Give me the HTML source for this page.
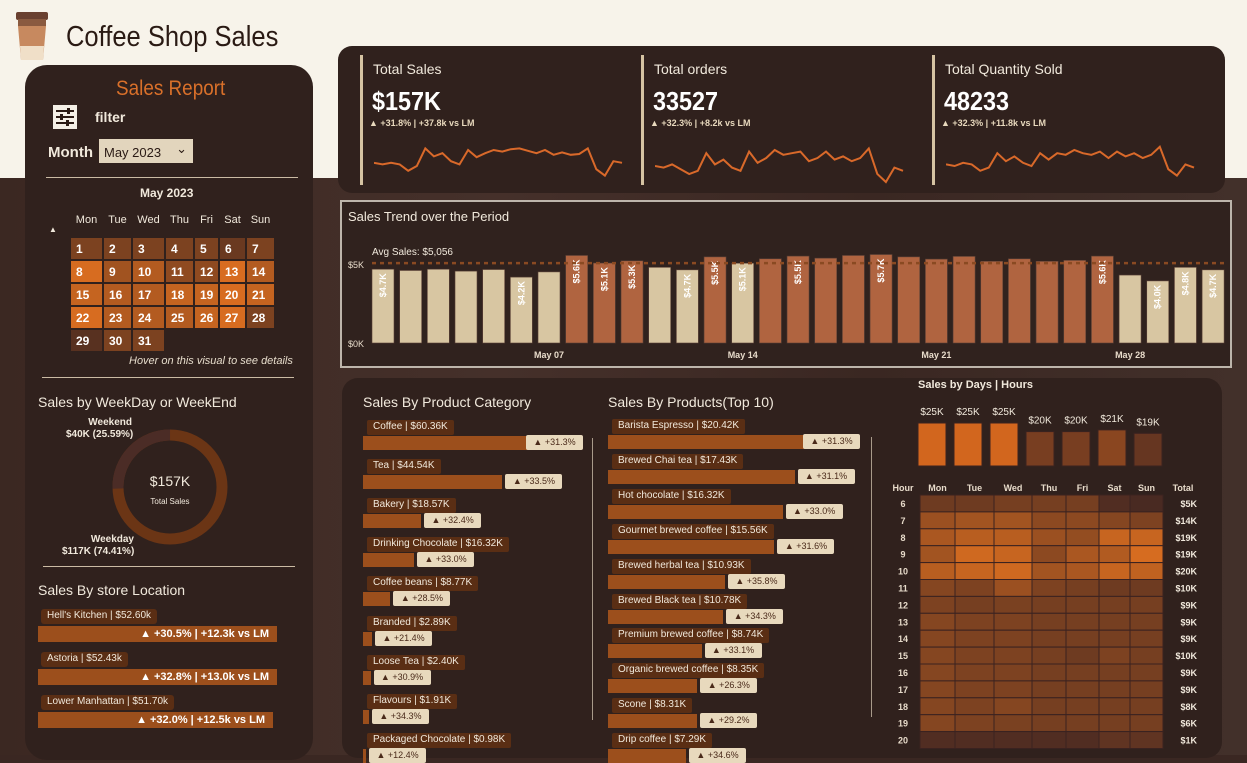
<!DOCTYPE html>
<html><head><meta charset="utf-8">
<style>
*{box-sizing:border-box;margin:0;padding:0}
body{width:1247px;height:755px;overflow:hidden;position:relative;font-family:"Liberation Sans",sans-serif;background:#3a2722}
.a{position:absolute}
.t{color:#f1e9dc;white-space:nowrap}
</style></head><body>
<div class="a" style="left:0;top:0;width:1247px;height:178px;background:#f7f3ea"></div>
<div class="a" style="left:0;top:178px;width:1247px;height:577px;background:linear-gradient(90deg,#3b2822,#45302a 40%,#3a2722 70%,#42302a)"></div>
<svg class="a" style="left:14px;top:10px" width="36" height="52" viewBox="0 0 36 52"><rect x="2" y="2" width="32" height="8" rx="2" fill="#6a4030"/><rect x="4" y="9" width="28" height="7" fill="#8a5a40"/><path d="M4 16h28l-3 34H7z" fill="#c7895f"/><path d="M6 36h24l-1 14H7z" fill="#f0dfc8"/></svg>
<div class="a" style="left:66px;top:21px;font-size:29px;color:#2a1a14;transform:scaleX(.88);transform-origin:left">Coffee Shop Sales</div>

<!-- left panel -->
<div class="a" style="left:25px;top:65px;width:288px;height:695px;background:#30211d;border-radius:22px"></div>
<div class="a" style="left:116px;top:77px;font-size:21px;color:#d9702a;transform:scaleX(.9);transform-origin:left">Sales Report</div>
<svg class="a" style="left:53px;top:105px" width="24" height="24"><rect width="24" height="24" fill="#f4efe6"/><g stroke="#2a1a14" stroke-width="2"><line x1="3" y1="6" x2="21" y2="6"/><line x1="3" y1="12" x2="21" y2="12"/><line x1="3" y1="18" x2="21" y2="18"/></g><g fill="#2a1a14"><rect x="14" y="3" width="3" height="6"/><rect x="7" y="9" width="3" height="6"/><rect x="13" y="15" width="3" height="6"/></g></svg>
<div class="a t" style="left:95px;top:109px;font-size:14px;font-weight:bold">filter</div>
<div class="a t" style="left:48px;top:144px;font-size:15px;font-weight:bold">Month</div>
<div class="a" style="left:99px;top:139px;width:94px;height:24px;background:#e2d5bd;font-size:13px;color:#2a1a14;padding:6px 0 0 5px">May 2023<span style="position:absolute;right:6px;top:2px;font-size:13px">&#8964;</span></div>
<div class="a" style="left:46px;top:177px;width:252px;height:1px;background:#cbbba4"></div>
<div class="a t" style="left:140px;top:186px;font-size:12px;font-weight:bold">May 2023</div>
<div class="a t" style="left:49px;top:225px;font-size:8px">&#9650;</div>
<div class="a" style="left:129px;top:355px;font-size:11px;font-style:italic;color:#e6dccb">Hover on this visual to see details</div>
<div class="a" style="left:42px;top:377px;width:252px;height:1px;background:#cbbba4"></div>
<div class="a t" style="left:38px;top:394px;font-size:14px">Sales by WeekDay or WeekEnd</div>
<svg class="a" id="donut" style="left:100px;top:420px" width="140" height="140"></svg>
<div class="a t" style="left:66px;top:417px;font-size:10px;font-weight:bold;text-align:right;width:66px;line-height:12px">Weekend<br>$40K (25.59%)</div>
<div class="a t" style="left:62px;top:534px;font-size:10px;font-weight:bold;text-align:right;width:72px;line-height:12px">Weekday<br>$117K (74.41%)</div>
<div class="a t" style="left:130px;top:473px;width:80px;text-align:center;font-size:14px">$157K</div>
<div class="a t" style="left:130px;top:497px;width:80px;text-align:center;font-size:8px">Total Sales</div>
<div class="a" style="left:43px;top:566px;width:252px;height:1px;background:#cbbba4"></div>
<div class="a t" style="left:38px;top:582px;font-size:14px">Sales By store Location</div>

<!-- KPI panel -->
<div class="a" style="left:338px;top:46px;width:887px;height:147px;background:#30211d;border-radius:14px"></div>

<!-- trend -->
<div class="a" style="left:340px;top:200px;width:892px;height:168px;background:#30221e;border:2px solid #bdb5ab"></div>
<div class="a t" style="left:348px;top:209px;font-size:13px">Sales Trend over the Period</div>
<svg class="a" id="trend" style="left:340px;top:230px" width="892" height="135"></svg>

<!-- bottom panel -->
<div class="a" style="left:342px;top:378px;width:880px;height:380px;background:#30211d;border-radius:16px"></div>
<div class="a t" style="left:363px;top:394px;font-size:14px">Sales By Product Category</div>
<div class="a t" style="left:608px;top:394px;font-size:14px">Sales By Products(Top 10)</div>
<div class="a" style="left:592px;top:438px;width:1px;height:282px;background:#a89a8a"></div>
<div class="a" style="left:871px;top:437px;width:1px;height:280px;background:#a89a8a"></div>
<div class="a t" style="left:918px;top:379px;font-size:11px;font-weight:bold">Sales by Days | Hours</div>
<svg class="a" id="heat" style="left:880px;top:395px" width="340" height="360"></svg>

<script>
const NS="http://www.w3.org/2000/svg";
function el(tag,attrs,parent){const e=document.createElementNS(NS,tag);for(const k in attrs)e.setAttribute(k,attrs[k]);parent.appendChild(e);return e;}
function div(parent,css,html){const d=document.createElement('div');d.className='a';d.style.cssText=css;if(html!==undefined)d.innerHTML=html;(parent||document.body).appendChild(d);return d;}

// ---- calendar ----
const calDays=["Mon","Tue","Wed","Thu","Fri","Sat","Sun"];
const calShade=[3,3,3,3,3,2,3, 8,5,6,4,4,8,6, 7,6,6,7,7,8,7, 8,6,6,6,7,8,3, 1,3,3];
const calX=[71,104,133,166,195,220,247],calW=[31,27,31,27,23,25,27];
calDays.forEach((d,i)=>{const h=div(null,`left:${calX[i]}px;top:214px;width:${calW[i]}px;text-align:center;font-size:11px;color:#f1e9dc`,d);

});
function shade(v){const c1=[70,40,32],c2=[215,108,32];const t=v/8;return `rgb(${c1.map((c,i)=>Math.round(c+(c2[i]-c)*t)).join(',')})`;}
calShade.forEach((s,i)=>{const c=i%7,r=Math.floor(i/7);
const d=div(null,`left:${calX[c]}px;top:${238+r*23}px;width:${calW[c]}px;height:21px;background:${shade(s)};color:#fff;font-weight:bold;font-size:12px;padding:4px 0 0 5px`,String(i+1));

});

// ---- donut ----
const donutVals=[40,117];
(function(){const svg=document.getElementById('donut');const cx=70,cy=67,r=52,tot=donutVals[0]+donutVals[1];
const C=2*Math.PI*r;const wk=donutVals[0]/tot;
const a=el('circle',{cx,cy,r,fill:'none',stroke:'#6b3515','stroke-width':11},svg);


const b=el('circle',{cx,cy,r,fill:'none',stroke:'#4b2c26','stroke-width':11,'stroke-dasharray':`${C*wk} ${C}`,transform:`rotate(${-90-360*wk} ${cx} ${cy})`},svg);

})();

// ---- stores ----
const storeNames=["Hell's Kitchen","Astoria","Lower Manhattan"];
const storeVals=["$52.60k","$52.43k","$51.70k"];
const storeDelta=["+30.5% | +12.3k vs LM","+32.8% | +13.0k vs LM","+32.0% | +12.5k vs LM"];
storeNames.forEach((n,i)=>{const y=609+i*43;
const t=div(null,`left:41px;top:${y}px;height:15px;background:#5a2e14;border-radius:3px;padding:1px 6px;font-size:10px;color:#f1e9dc`,`${n} | ${storeVals[i]}`);


const b=div(null,`left:38px;top:${y+17}px;width:${i==2?235:239}px;height:16px;background:#9c4f1c;text-align:right;padding:2px 8px;font-size:11px;font-weight:bold;color:#fff`,`&#9650; ${storeDelta[i]}`);

});

// ---- KPIs ----
const kpiTitles=["Total Sales","Total orders","Total Quantity Sold"];
const kpiValues=["$157K","33527","48233"];
const kpiDelta=["+31.8% | +37.8k vs LM","+32.3% | +8.2k vs LM","+32.3% | +11.8k vs LM"];
const spark1=[4.7,4.6,4.7,4.6,4.2,4.5,5.6,5.1,5.3,4.8,4.6,5.5,5.05,5.3,5.5,5.4,5.55,5.6,5.45,5.3,5.5,5.2,5.35,5.2,5.25,5.6,4.3,3.9,4.8,4.7];
const spark2=[4.5,4.4,4.6,4.3,4.0,4.2,5.3,4.6,4.9,4.4,4.2,5.4,4.7,5.0,5.5,5.2,5.3,5.4,4.8,5.0,5.4,4.9,5.1,4.8,5.0,5.6,4.0,3.5,4.4,4.2];
const spark3=[4.6,4.5,4.7,4.6,4.2,4.4,5.3,4.8,5.1,4.7,4.5,5.3,4.9,5.3,5.2,5.5,5.3,5.2,5.4,5.0,5.4,5.1,5.3,5.0,5.2,5.7,4.3,3.9,4.6,4.4];
const sparks=[spark1,spark2,spark3];
const kx=[360,641,932];
kpiTitles.forEach((t,i)=>{const x=kx[i];
const ln=div(null,`left:${x}px;top:55px;width:3px;height:130px;background:#d5c3a2`);


const tt=div(null,`left:${x+13}px;top:61px;font-size:14px;color:#f1e9dc`,t);


const v=div(null,`left:${x+12}px;top:86px;font-size:26px;font-weight:bold;color:#fff;transform:scaleX(.9);transform-origin:left`,kpiValues[i]);


const d=div(null,`left:${x+9}px;top:118px;font-size:9px;font-weight:bold;color:#e8d9bd`,`&#9650; ${kpiDelta[i]}`);


const svg=document.createElementNS(NS,'svg');svg.setAttribute('class','a');svg.style.cssText=`left:${x+14}px;top:140px`;svg.setAttribute('width',250);svg.setAttribute('height',45);


document.body.appendChild(svg);
const s=sparks[i],mn=3.5,mx=6;const pts=s.map((v,j)=>`${(j*248/(s.length-1)).toFixed(1)},${(42-(v-mn)/(mx-mn)*40).toFixed(1)}`).join(' ');
const pl=el('polyline',{points:pts,fill:'none',stroke:'#d9692a','stroke-width':2},svg);

});

// ---- trend chart ----
const trendValues=[4.67,4.59,4.67,4.55,4.65,4.17,4.5,5.54,5.06,5.2,4.79,4.63,5.45,5.05,5.33,5.5,5.37,5.54,5.6,5.45,5.31,5.48,5.17,5.33,5.17,5.23,5.5,4.3,3.93,4.79,4.63];
const trendLabels=["$4.7K","","","","","$4.2K","","$5.6K","$5.1K","$5.3K","","$4.7K","$5.5K","$5.1K","","$5.5K","","","$5.7K","","","","","","","","$5.6K","","$4.0K","$4.8K","$4.7K"];
const trendTicks=[{i:6,l:"May 07"},{i:13,l:"May 14"},{i:20,l:"May 21"},{i:27,l:"May 28"}];
const avgSales=5.056;
(function(){const svg=document.getElementById('trend');const base=113,top0=34;const yS=v=>base-(v/5)*(base-top0);
const x0=32,step=27.67,bw=22;const xS=i=>x0+i*step;
[[0,"$0K"],[5,"$5K"]].forEach(([v,l])=>{const t=el('text',{x:8,y:yS(v)+4,'font-size':9,fill:'#e8dccb'},svg);t.textContent=l;

});
trendValues.forEach((v,i)=>{const r=el('rect',{x:xS(i),y:yS(v),width:bw,height:base-yS(v),fill:v>=avgSales?'#b06440':'#d8c6a2',stroke:'#5a4036','stroke-width':0.6},svg);


if(trendLabels[i]){const cx=xS(i)+bw/2+3,cy=yS(v)+4;const t=el('text',{x:cx,y:cy,transform:`rotate(-90 ${cx} ${cy})`,'text-anchor':'end','font-size':9,'font-weight':'bold',fill:'#fff'},svg);t.textContent=trendLabels[i];

}});
const ay=yS(avgSales);
const ln=el('line',{x1:x0,x2:xS(30)+bw,y1:ay,y2:ay,stroke:'#8a4a22','stroke-width':2.5,'stroke-dasharray':'4 4'},svg);


const at=el('text',{x:32,y:ay-8,'font-size':10,fill:'#f1e9dc'},svg);at.textContent="Avg Sales: $5,056";


trendTicks.forEach(k=>{const t=el('text',{x:xS(k.i)+bw/2,y:128,'text-anchor':'middle','font-size':9,'font-weight':'bold',fill:'#e8dccb'},svg);t.textContent=k.l;

});})();

// ---- categories & products ----
const catNames=["Coffee","Tea","Bakery","Drinking Chocolate","Coffee beans","Branded","Loose Tea","Flavours","Packaged Chocolate"];
const catValues=[60.36,44.54,18.57,16.32,8.77,2.89,2.40,1.91,0.98];
const catDelta=["+31.3%","+33.5%","+32.4%","+33.0%","+28.5%","+21.4%","+30.9%","+34.3%","+12.4%"];
const prodNames=["Barista Espresso","Brewed Chai tea","Hot chocolate","Gourmet brewed coffee","Brewed herbal tea","Brewed Black tea","Premium brewed coffee","Organic brewed coffee","Scone","Drip coffee"];
const prodValues=[20.42,17.43,16.32,15.56,10.93,10.78,8.74,8.35,8.31,7.29];
const prodDelta=["+31.3%","+31.1%","+33.0%","+31.6%","+35.8%","+34.3%","+33.1%","+26.3%","+29.2%","+34.6%"];
function hbars(names,vals,deltas,x0,top,pitch,scale,maxW,nm){
names.forEach((n,i)=>{const y=top+i*pitch;const w=Math.min(vals[i]*scale,maxW);
const t=div(null,`left:${x0+4}px;top:${y}px;height:15px;background:#5a2e14;border-radius:2px;padding:1px 6px;font-size:10px;color:#f1e9dc;white-space:nowrap`,`${n} | $${vals[i].toFixed(2)}K`);


const b=div(null,`left:${x0}px;top:${y+16}px;width:${w}px;height:14px;background:#9c4f1c`);


const bx=Math.min(x0+w+3,x0+maxW-55);
const g=div(null,`left:${bx}px;top:${y+15}px;width:57px;height:15px;background:#e8d9bd;border-radius:2px;font-size:9px;color:#4a2a1a;text-align:center;padding-top:2px`,`&#9650; ${deltas[i]}`);

});}
hbars(catNames,catValues,catDelta,363,420,39.1,3.13,218,'category');
hbars(prodNames,prodValues,prodDelta,608,419,34.9,10.7,250,'product');

// ---- heatmap ----
const dayNames=["Mon","Tue","Wed","Thu","Fri","Sat","Sun"];
const dayTotals=[25,25,25,20,20,21,19];
const hours=[6,7,8,9,10,11,12,13,14,15,16,17,18,19,20];
const hourTotals=["$5K","$14K","$19K","$19K","$20K","$10K","$9K","$9K","$9K","$10K","$9K","$9K","$8K","$6K","$1K"];
const heatValues=[
[3,3,3.5,3.5,3.5,1,0.5],
[6,6.5,6.5,5,5,4.5,4],
[7,8,8,6,5.5,9,9],
[6.5,9.5,9,5,7,7.5,10],
[8,9,9.5,6.5,7,9,8.5],
[4.5,4,6,4,3.5,3,3],
[4,3.5,3.8,3.5,3.5,3.5,3.5],
[4.5,4,4,3.5,3.5,3.5,3.5],
[4.5,4,4,3.5,3.5,3.5,3.5],
[4.5,4,4,3.5,3,4,3.5],
[4.5,4,4,3.5,3.5,3.5,3.5],
[4.5,4,4,3.5,3.5,3.5,3.5],
[4.5,4,4.5,3.5,3.5,3.5,3.5],
[4.5,4,3.8,3.5,3.5,3.5,3.5],
[1,1,1,1,1,2,2]];
(function(){const svg=document.getElementById('heat');const ox=880,oy=395;
const colX=[920,955,994,1032,1066,1099,1130,1163].map(v=>v-ox);
const hcol=v=>{const c1=[66,38,34],c2=[214,108,32];const t=v/10;return `rgb(${c1.map((c,i)=>Math.round(c+(c2[i]-c)*t)).join(',')})`;};
const dcol=v=>{const t=(v-19)/6;const c1=[66,38,34],c2=[210,102,30];return `rgb(${c1.map((c,i)=>Math.round(c+(c2[i]-c)*(0.25+0.75*t))).join(',')})`;};
const base=466-oy,ks=1.72;
dayNames.forEach((d,i)=>{const x=918-ox+i*36,h=dayTotals[i]*ks;
const r=el('rect',{x,y:base-h,width:28,height:h,fill:dcol(dayTotals[i]),stroke:'#3a2220','stroke-width':1},svg);


const t=el('text',{x:x+14,y:base-h-8,'text-anchor':'middle','font-size':10,fill:'#f1e9dc'},svg);t.textContent='$'+dayTotals[i]+'K';


const dl=el('text',{x:(colX[i]+colX[i+1])/2,y:491-oy,'text-anchor':'middle','font-size':9,'font-weight':'bold',fill:'#e8dccb'},svg);dl.textContent=d;

});
const hh=el('text',{x:23,y:96,'text-anchor':'middle','font-size':9,'font-weight':'bold',fill:'#e8dccb'},svg);hh.textContent='Hour';


const th=el('text',{x:303,y:96,'text-anchor':'middle','font-size':9,'font-weight':'bold',fill:'#e8dccb'},svg);th.textContent='Total';


const ry0=495-oy,rh=16.9;
hours.forEach((h,r)=>{const y=ry0+r*rh;
const hl=el('text',{x:23,y:y+12,'text-anchor':'middle','font-size':9,'font-weight':'bold',fill:'#e8dccb'},svg);hl.textContent=h;


const tl=el('text',{x:317,y:y+12,'text-anchor':'end','font-size':9,'font-weight':'bold',fill:'#f1e9dc'},svg);tl.textContent=hourTotals[r];


heatValues[r].forEach((v,c)=>{const rc=el('rect',{x:colX[c],y,width:colX[c+1]-colX[c],height:rh,fill:hcol(v),stroke:'#3a2220','stroke-width':1},svg);

});});})();
</script>
</body></html>
